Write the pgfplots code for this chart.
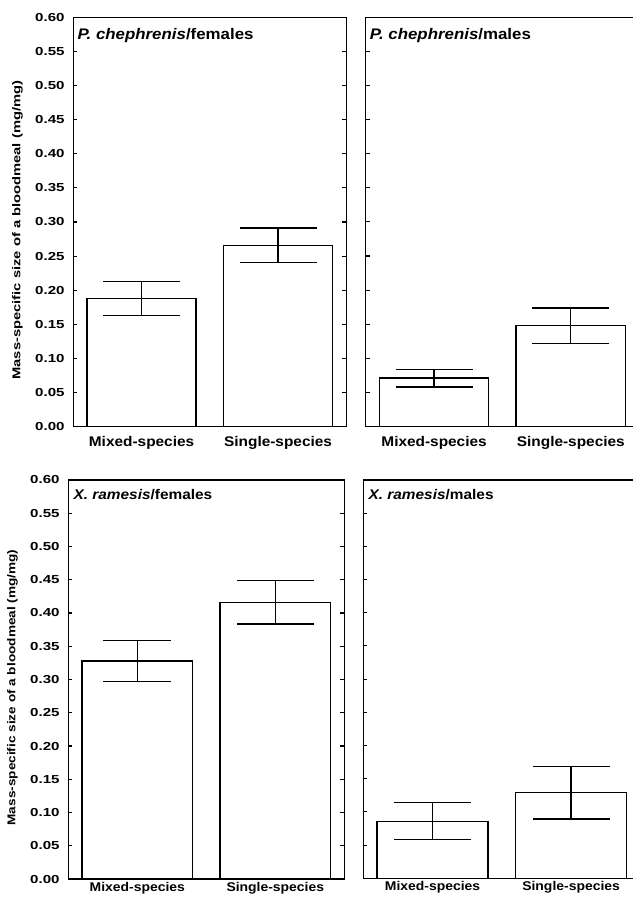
\documentclass[border=0pt]{standalone}
\usepackage{fontspec}
\setmainfont{Liberation Sans}
\newfontfamily\fA{Liberation Sans}[FakeStretch=1.3]
\newfontfamily\fB{Liberation Sans}[FakeStretch=1.2]
\newfontfamily\fC{Liberation Sans}[FakeStretch=1.1]
\usepackage{pgfplots}
\pgfplotsset{compat=1.18}
\pgfplotsset{
 panel/.style={
  scale only axis, anchor=north west,
  ybar, bar width=0.8, ymin=0, ymax=0.6, xmin=-0.5,
  ytick={0,0.05,0.1,0.15,0.2,0.25,0.3,0.35,0.4,0.45,0.5,0.55,0.6},
  xtick={0,1}, xticklabels={Mixed-species,Single-species},
  xtick style={draw=none},
  ytick style={line width=0.8pt, black},
  tick align=inside, major tick length=3pt,
  axis line style={line width=1pt},
  /pgf/number format/assume math mode=true,
  yticklabel style={font=\fontsize{8.7}{10}\fA\bfseries, xshift=-3pt,
    /pgf/number format/.cd, fixed, fixed zerofill, precision=2},
  ylabel style={font=\fontsize{8.5}{10}\fA\bfseries, at={(ticklabel cs:0.48)}},
  ylabel shift=2.5pt,
  error bars/y dir=both, error bars/y explicit,
  error bars/error bar style={line width=1pt, black},
  error bars/error mark options={line width=1pt, black, mark size=28.9pt, rotate=90},
 },
 bars/.style={draw=black, fill=white, line width=1pt, bar shift=0pt},
}
\begin{document}
\begin{tikzpicture}
\useasboundingbox (0,0) rectangle (474.75pt,-676.5pt);
% top-left
\begin{axis}[panel, at={(54.98pt,-12.98pt)}, width=204.75pt, height=307.05pt, xmax=1.5,
  xticklabel style={font=\fontsize{10.5}{12}\fC\bfseries, yshift=-4pt},
  ylabel={Mass-specific size of a bloodmeal (mg/mg)}]
\addplot[bars] table[x=x, y=y, y error=e] {
x y e
0 0.188 0.025
1 0.266 0.025
};
\node[anchor=north west, inner sep=0pt, font=\fontsize{11.5}{13}\fC\bfseries] at (rel axis cs:0,1) [xshift=3pt, yshift=-8.25pt] {\textit{P. chephrenis}/females};
\end{axis}
% top-right
\begin{axis}[panel, at={(274.28pt,-12.98pt)}, width=200.48pt, height=306.9pt, xmax=1.455,
  axis y line*=left, tick align=inside, yticklabels={},
  xticklabel style={font=\fontsize{10.5}{12}\fC\bfseries, yshift=-4pt}]
\addplot[bars] table[x=x, y=y, y error=e] {
x y e
0 0.071 0.013
1 0.148 0.026
};
\node[anchor=north west, inner sep=0pt, font=\fontsize{11.5}{13}\fC\bfseries] at (rel axis cs:0,1) [xshift=3pt, yshift=-8.25pt] {\textit{P. chephrenis}/males};
\end{axis}
% bottom-left
\begin{axis}[panel, at={(51.23pt,-360pt)}, width=207pt, height=299.25pt, xmax=1.5,
  xticklabel style={font=\fontsize{9.5}{11}\fC\bfseries, yshift=1pt},
  ylabel style={font=\fontsize{8.5}{10}\fB\bfseries},
  ylabel={Mass-specific size of a bloodmeal (mg/mg)}]
\addplot[bars, error bars/error mark options={line width=1pt, black, mark size=25.6pt, rotate=90}] table[x=x, y=y, y error=e] {
x y e
0 0.328 0.031
};
\addplot[bars] table[x=x, y=y, y error=e] {
x y e
1 0.416 0.0325
};
\node[anchor=north west, inner sep=0pt, font=\fontsize{10.5}{12}\fC\bfseries] at (rel axis cs:0,1) [xshift=3.75pt, yshift=-6.75pt] {\textit{X. ramesis}/females};
\end{axis}
% bottom-right
\begin{axis}[panel, at={(272.48pt,-360pt)}, width=202.28pt, height=298.73pt, xmax=1.447,
  axis y line*=left, tick align=inside, yticklabels={},
  xticklabel style={font=\fontsize{9.5}{11}\fC\bfseries, yshift=1pt}]
\addplot[bars] table[x=x, y=y, y error=e] {
x y e
0 0.086 0.028
1 0.129 0.0395
};
\node[anchor=north west, inner sep=0pt, font=\fontsize{10.5}{12}\fC\bfseries] at (rel axis cs:0,1) [xshift=3.75pt, yshift=-6.75pt] {\textit{X. ramesis}/males};
\end{axis}
\end{tikzpicture}
\end{document}
